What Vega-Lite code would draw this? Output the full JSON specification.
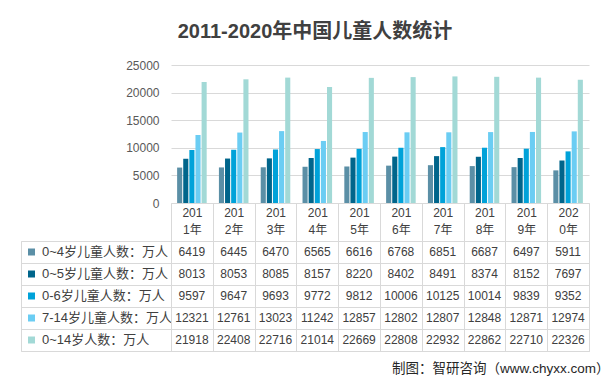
{
  "$schema": "https://vega.github.io/schema/vega-lite/v6.json",
  "padding": {"left": 20, "top": 22, "right": 10, "bottom": 1},
  "background": "white",
  "title": {"text": "2011-2020年中国儿童人数统计", "fontSize": 20, "fontWeight": "bold", "color": "#404040", "anchor": "middle", "offset": 17},
  "config": {
    "font": "Liberation Sans, Noto Sans CJK SC",
    "view": {"stroke": "#d9d9d9"}
  },
  "datasets": {
    "d": [
      {"year": "2011年", "series": "0~4岁儿童人数：万人", "value": 6419},
      {"year": "2011年", "series": "0~5岁儿童人数：万人", "value": 8013},
      {"year": "2011年", "series": "0-6岁儿童人数：万人", "value": 9597},
      {"year": "2011年", "series": "7-14岁儿童人数：万人", "value": 12321},
      {"year": "2011年", "series": "0~14岁人数：万人", "value": 21918},
      {"year": "2012年", "series": "0~4岁儿童人数：万人", "value": 6445},
      {"year": "2012年", "series": "0~5岁儿童人数：万人", "value": 8053},
      {"year": "2012年", "series": "0-6岁儿童人数：万人", "value": 9647},
      {"year": "2012年", "series": "7-14岁儿童人数：万人", "value": 12761},
      {"year": "2012年", "series": "0~14岁人数：万人", "value": 22408},
      {"year": "2013年", "series": "0~4岁儿童人数：万人", "value": 6470},
      {"year": "2013年", "series": "0~5岁儿童人数：万人", "value": 8085},
      {"year": "2013年", "series": "0-6岁儿童人数：万人", "value": 9693},
      {"year": "2013年", "series": "7-14岁儿童人数：万人", "value": 13023},
      {"year": "2013年", "series": "0~14岁人数：万人", "value": 22716},
      {"year": "2014年", "series": "0~4岁儿童人数：万人", "value": 6565},
      {"year": "2014年", "series": "0~5岁儿童人数：万人", "value": 8157},
      {"year": "2014年", "series": "0-6岁儿童人数：万人", "value": 9772},
      {"year": "2014年", "series": "7-14岁儿童人数：万人", "value": 11242},
      {"year": "2014年", "series": "0~14岁人数：万人", "value": 21014},
      {"year": "2015年", "series": "0~4岁儿童人数：万人", "value": 6616},
      {"year": "2015年", "series": "0~5岁儿童人数：万人", "value": 8220},
      {"year": "2015年", "series": "0-6岁儿童人数：万人", "value": 9812},
      {"year": "2015年", "series": "7-14岁儿童人数：万人", "value": 12857},
      {"year": "2015年", "series": "0~14岁人数：万人", "value": 22669},
      {"year": "2016年", "series": "0~4岁儿童人数：万人", "value": 6768},
      {"year": "2016年", "series": "0~5岁儿童人数：万人", "value": 8402},
      {"year": "2016年", "series": "0-6岁儿童人数：万人", "value": 10006},
      {"year": "2016年", "series": "7-14岁儿童人数：万人", "value": 12802},
      {"year": "2016年", "series": "0~14岁人数：万人", "value": 22808},
      {"year": "2017年", "series": "0~4岁儿童人数：万人", "value": 6851},
      {"year": "2017年", "series": "0~5岁儿童人数：万人", "value": 8491},
      {"year": "2017年", "series": "0-6岁儿童人数：万人", "value": 10125},
      {"year": "2017年", "series": "7-14岁儿童人数：万人", "value": 12807},
      {"year": "2017年", "series": "0~14岁人数：万人", "value": 22932},
      {"year": "2018年", "series": "0~4岁儿童人数：万人", "value": 6687},
      {"year": "2018年", "series": "0~5岁儿童人数：万人", "value": 8374},
      {"year": "2018年", "series": "0-6岁儿童人数：万人", "value": 10014},
      {"year": "2018年", "series": "7-14岁儿童人数：万人", "value": 12848},
      {"year": "2018年", "series": "0~14岁人数：万人", "value": 22862},
      {"year": "2019年", "series": "0~4岁儿童人数：万人", "value": 6497},
      {"year": "2019年", "series": "0~5岁儿童人数：万人", "value": 8152},
      {"year": "2019年", "series": "0-6岁儿童人数：万人", "value": 9839},
      {"year": "2019年", "series": "7-14岁儿童人数：万人", "value": 12871},
      {"year": "2019年", "series": "0~14岁人数：万人", "value": 22710},
      {"year": "2020年", "series": "0~4岁儿童人数：万人", "value": 5911},
      {"year": "2020年", "series": "0~5岁儿童人数：万人", "value": 7697},
      {"year": "2020年", "series": "0-6岁儿童人数：万人", "value": 9352},
      {"year": "2020年", "series": "7-14岁儿童人数：万人", "value": 12974},
      {"year": "2020年", "series": "0~14岁人数：万人", "value": 22326}
    ]
  },
  "data": {"name": "d"},
  "columns": 2,
  "spacing": {"row": 38, "column": 0},
  "bounds": "flush",
  "resolve": {
    "scale": {"x": "independent", "y": "independent", "color": "independent", "xOffset": "independent"},
    "axis": {"x": "independent", "y": "independent"},
    "legend": {"color": "independent"}
  },
  "concat": [
    {
      "width": 150,
      "height": 138,
      "view": {"stroke": null},
      "data": {"values": [{}]},
      "mark": {"type": "text", "text": ""},
      "encoding": {}
    },
    {
      "width": 418,
      "height": 138,
      "view": {"stroke": null},
      "mark": {"type": "bar"},
      "encoding": {
        "x": {
          "field": "year", "type": "nominal", "sort": null,
          "scale": {"paddingInner": 0, "paddingOuter": 0},
          "axis": {
            "title": null, "labelAngle": 0,
            "labelExpr": "[substring(datum.label, 0, 3), substring(datum.label, 3)]",
            "labelBaseline": "top", "labelPadding": -34, "labelLineHeight": 17,
            "labelFontSize": 12, "labelColor": "#404040",
            "ticks": true, "tickSize": 38, "tickColor": "#d9d9d9", "tickBand": "extent",
            "domainColor": "#d9d9d9", "grid": false
          }
        },
        "xOffset": {
          "field": "series", "type": "nominal",
          "sort": ["0~4岁儿童人数：万人", "0~5岁儿童人数：万人", "0-6岁儿童人数：万人", "7-14岁儿童人数：万人", "0~14岁人数：万人"],
          "scale": {"paddingInner": 0.167, "paddingOuter": 1.07}
        },
        "y": {
          "field": "value", "type": "quantitative",
          "scale": {"domain": [0, 25000]},
          "axis": {
            "values": [0, 5000, 10000, 15000, 20000, 25000], "format": "d", "title": null,
            "domain": false, "ticks": false, "labelPadding": 12,
            "labelFontSize": 12, "labelColor": "#595959", "gridColor": "#d9d9d9"
          }
        },
        "color": {
          "field": "series", "type": "nominal",
          "scale": {
            "domain": ["0~4岁儿童人数：万人", "0~5岁儿童人数：万人", "0-6岁儿童人数：万人", "7-14岁儿童人数：万人", "0~14岁人数：万人"],
            "range": ["#5b8fa6", "#00658b", "#00a2d9", "#6bcdf3", "#a2d9d6"]
          },
          "legend": null
        }
      }
    },
    {
      "width": 150,
      "height": 110,
      "mark": {"type": "square", "opacity": 0},
      "encoding": {
        "y": {
          "field": "series", "type": "nominal",
          "sort": ["0~4岁儿童人数：万人", "0~5岁儿童人数：万人", "0-6岁儿童人数：万人", "7-14岁儿童人数：万人", "0~14岁人数：万人"],
          "scale": {"paddingInner": 0, "paddingOuter": 0},
          "axis": {"title": null, "labels": false, "ticks": false, "domain": false, "grid": true, "gridColor": "#d9d9d9", "tickBand": "extent"}
        },
        "color": {
          "field": "series", "type": "nominal",
          "scale": {
            "domain": ["0~4岁儿童人数：万人", "0~5岁儿童人数：万人", "0-6岁儿童人数：万人", "7-14岁儿童人数：万人", "0~14岁人数：万人"],
            "range": ["#5b8fa6", "#00658b", "#00a2d9", "#6bcdf3", "#a2d9d6"]
          },
          "legend": {
            "title": null, "orient": "none", "legendX": 4, "legendY": 0,
            "padding": 0, "offset": 0, "rowPadding": 0, "clipHeight": 22,
            "symbolType": "square", "symbolSize": 49, "symbolStrokeWidth": 0, "symbolOpacity": 1,
            "labelFontSize": 13, "labelColor": "#404040", "labelOffset": 4, "labelLimit": 200
          }
        }
      }
    },
    {
      "width": 418,
      "height": 110,
      "mark": {"type": "text", "fontSize": 12, "color": "#404040"},
      "encoding": {
        "x": {
          "field": "year", "type": "nominal", "sort": null,
          "scale": {"paddingInner": 0, "paddingOuter": 0},
          "axis": {
            "title": "制图：智研咨询（www.chyxx.com）",
            "labels": false, "ticks": false, "domain": false,
            "grid": true, "gridColor": "#d9d9d9", "tickBand": "extent",
            "titleFontSize": 13.5, "titleFontWeight": "normal", "titleColor": "#262626",
            "titleAnchor": "end", "titleAlign": "right", "titleX": 438, "titleY": 17, "titleBaseline": "middle"
          }
        },
        "y": {
          "field": "series", "type": "nominal",
          "sort": ["0~4岁儿童人数：万人", "0~5岁儿童人数：万人", "0-6岁儿童人数：万人", "7-14岁儿童人数：万人", "0~14岁人数：万人"],
          "scale": {"paddingInner": 0, "paddingOuter": 0},
          "axis": {"title": null, "labels": false, "ticks": false, "domain": false, "grid": true, "gridColor": "#d9d9d9", "tickBand": "extent"}
        },
        "text": {"field": "value", "type": "quantitative", "format": "d"}
      }
    }
  ]
}
